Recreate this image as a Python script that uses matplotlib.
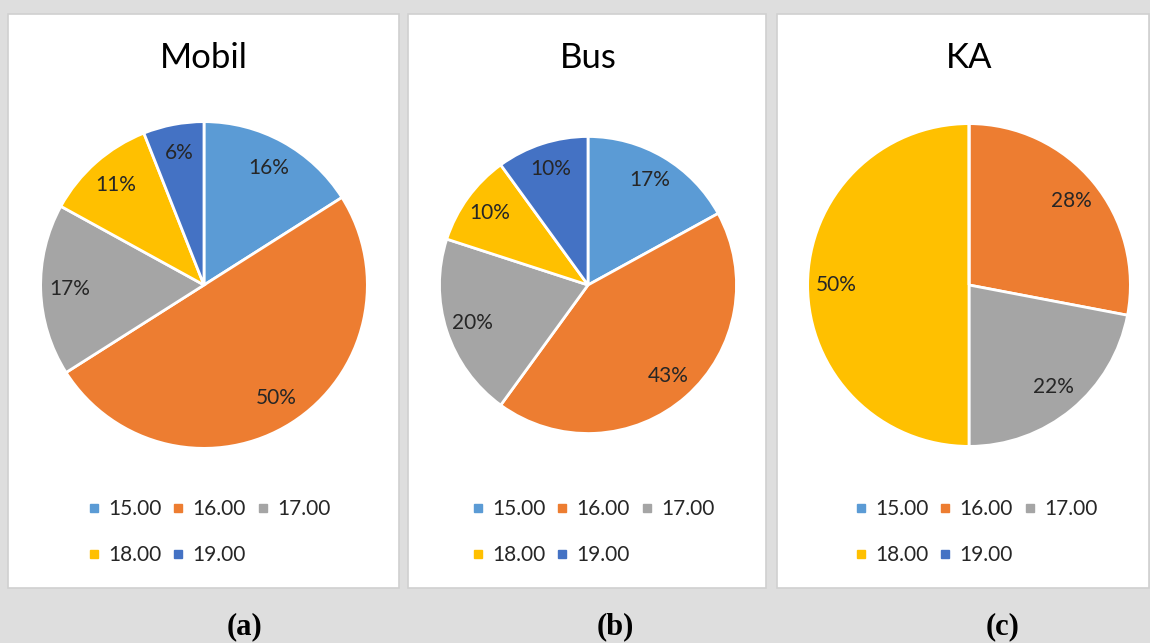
import matplotlib
matplotlib.use("Agg")
import matplotlib.pyplot as plt
from matplotlib.patches import Rectangle
from matplotlib.lines import Line2D

hours = ["15.00", "16.00", "17.00", "18.00", "19.00"]
colors = ["#5B9BD5", "#ED7D31", "#A5A5A5", "#FFC000", "#4472C4"]

titles = ["Mobil", "Bus", "KA"]
captions = ["(a)", "(b)", "(c)"]
mobil = [16, 50, 17, 11, 6]
bus = [17, 43, 20, 10, 10]
ka = [0, 28, 22, 50, 0]

W, H = 1150, 643
fig = plt.figure(figsize=(W / 100, H / 100), dpi=100)
fig.patch.set_facecolor("#dedede")

# panel boxes (left, right) in pixels, top/bottom shared
panels = [(8, 399), (408, 766), (777, 1149)]
top, bottom = 14, 588
centers = [(204, 285, 165), (588, 285, 150), (969, 285, 163)]
legend_x = [209, 593, 976]
caption_x = [245, 615, 1003]

for (l, r) in panels:
    fig.patches.append(Rectangle((l / W, 1 - bottom / H), (r - l) / W, (bottom - top) / H,
                                 transform=fig.transFigure, facecolor="white",
                                 edgecolor="#d0d0d0", linewidth=1.2, zorder=-1))


def pct(v):
    return f"{v:.0f}%" if v > 0.5 else ""


font = "Lato"
for i, vals in enumerate([mobil, bus, ka]):
    cx, cy, R = centers[i]
    ax = fig.add_axes([(cx - R) / W, 1 - (cy + R) / H, 2 * R / W, 2 * R / H])
    ax.pie(
        vals, colors=colors, startangle=90, counterclock=False,
        autopct=pct, pctdistance=0.82,
        wedgeprops=dict(edgecolor="white", linewidth=2),
        textprops=dict(fontsize=15, fontfamily=font, color="#262626"),
    )
    ax.set_xlim(-1.01, 1.01)
    ax.set_ylim(-1.01, 1.01)
    ax.set_aspect("equal")

    fig.text(cx / W, 1 - 58 / H, titles[i], ha="center", va="center",
             fontsize=25, fontfamily=font, color="black")

    handles = [Line2D([], [], marker="s", linestyle="none", markersize=6,
                      markerfacecolor=c, markeredgecolor=c) for c in colors]
    order = [0, 3, 1, 4, 2]
    fig.legend([handles[k] for k in order], [hours[k] for k in order],
               loc="center", bbox_to_anchor=(legend_x[i] / W, 1 - 532 / H),
               ncol=3, frameon=False, prop=dict(family=font, size=15),
               handlelength=0.6, handletextpad=0.4, columnspacing=0.5,
               labelspacing=1.25, labelcolor="#262626")

    fig.text(caption_x[i] / W, 1 - 627 / H, captions[i], ha="center", va="center",
             fontsize=22, fontweight="bold", fontfamily="Liberation Serif")

fig.savefig("out.png", dpi=100, facecolor=fig.get_facecolor())
